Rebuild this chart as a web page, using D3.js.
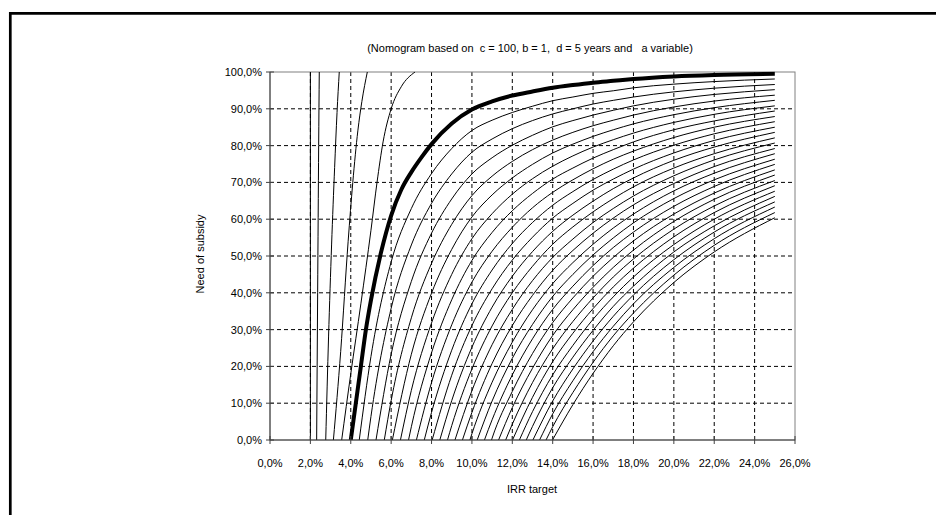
<!DOCTYPE html>
<meta charset="utf-8">
<script src="https://cdn.jsdelivr.net/npm/d3@7/dist/d3.min.js"></script>
<style>
  body { margin: 0; background: #fff; }
  text { font-family: "Liberation Sans", Arial, sans-serif; fill: #000; }
</style>
<div id="chart"></div>
<script>

// axis ticks (IRR target and need of subsidy, in %)
var irrTicks = [0, 2, 4, 6, 8, 10, 12, 14, 16, 18, 20, 22, 24, 26];
var subsidyTicks = [0, 10, 20, 30, 40, 50, 60, 70, 80, 90, 100];

// the bold curve (IRR of 4% without subsidy), [irr, subsidy]
var baseCurve = [[4, 0], [4.25, 10], [4.5, 20], [4.75, 30], [5, 38], [5.5, 51], [6, 61], [6.5, 68],
  [7, 72.8], [7.5, 76.8], [8, 80.4], [9, 86], [10, 89.8], [11, 92], [12, 93.6], [13, 94.7], [14, 95.7],
  [15, 96.45], [16, 97.1], [17, 97.6], [18, 98.1], [20, 98.8], [22, 99.2], [25, 99.5]];

// steep curves left of the bold one, [irr, subsidy]
var steepCurves = [
  [[2, 0], [2, 100]],
  [[2.31, 0], [2.36, 40], [2.41, 80], [2.44, 100]],
  [[2.76, 0], [2.9, 28], [3.05, 53], [3.2, 74], [3.32, 89], [3.43, 100]],
  [[3.14, 0], [3.5, 24], [3.87, 54], [4.1, 70], [4.35, 84], [4.55, 92], [4.82, 100]],
  [[3.55, 0], [4, 18], [4.5, 37], [5, 57], [5.3, 70], [5.6, 81], [6, 90], [6.5, 96], [7.18, 100]]
];

// curves right of the bold one: IRR where subsidy is 0, then subsidy at each grid IRR
var startIrr = [4.42, 4.84, 5.25, 5.66, 6.06, 6.46, 6.86, 7.25, 7.64, 8.03, 8.41, 8.79, 9.16, 9.53,
  9.90, 10.26, 10.62, 10.97, 11.32, 11.67, 12.01, 12.35, 12.69, 13.02, 13.35, 13.67, 13.99];
var irrGrid = [5, 6, 7, 8, 9, 10, 11, 12, 13, 14, 15, 16, 17, 18, 20, 22, 25];
var _ = null;
var subsidyRows = [
  [22.7, 48.4, 62.9, 72.4, 79.2, 84.1, 86.9, 89.0, 90.7, 92.2, 93.2, 94.2, 94.9, 95.7, 96.7, 97.4, 98.1],
  [6.4, 35.8, 53.0, 64.3, 72.3, 78.2, 81.8, 84.6, 86.8, 88.6, 90.0, 91.3, 92.3, 93.2, 94.6, 95.6, 96.6],
  [_, 23.3, 43.1, 56.2, 65.5, 72.3, 76.7, 80.1, 82.8, 85.1, 86.8, 88.3, 89.6, 90.8, 92.6, 93.9, 95.2],
  [_, 10.7, 33.2, 48.0, 58.6, 66.4, 71.7, 75.7, 78.9, 81.5, 83.6, 85.4, 86.9, 88.3, 90.5, 92.1, 93.7],
  [_, _, 23.3, 39.9, 51.8, 60.6, 66.6, 71.2, 74.9, 78.0, 80.4, 82.5, 84.3, 85.9, 88.4, 90.3, 92.3],
  [_, _, 13.5, 31.8, 45.0, 54.7, 61.5, 66.8, 71.0, 74.4, 77.2, 79.6, 81.6, 83.4, 86.3, 88.5, 90.8],
  [_, _, 3.6, 23.7, 38.1, 48.8, 56.4, 62.3, 67.0, 70.9, 73.9, 76.6, 78.9, 81.0, 84.3, 86.7, 89.4],
  [_, _, _, 15.6, 31.3, 42.9, 51.3, 57.8, 63.1, 67.3, 70.7, 73.7, 76.3, 78.5, 82.2, 85.0, 87.9],
  [_, _, _, 7.5, 24.4, 37.0, 46.2, 53.4, 59.1, 63.8, 67.5, 70.8, 73.6, 76.1, 80.1, 83.2, 86.5],
  [_, _, _, _, 17.6, 31.1, 41.1, 48.9, 55.1, 60.3, 64.3, 67.9, 70.9, 73.6, 78.0, 81.4, 85.0],
  [_, _, _, _, 10.7, 25.2, 36.1, 44.5, 51.2, 56.7, 61.1, 64.9, 68.3, 71.2, 76.0, 79.6, 83.6],
  [_, _, _, _, 3.9, 19.3, 31.0, 40.0, 47.2, 53.2, 57.9, 62.0, 65.6, 68.8, 73.9, 77.8, 82.1],
  [_, _, _, _, _, 13.4, 25.9, 35.5, 43.3, 49.6, 54.6, 59.1, 62.9, 66.3, 71.8, 76.1, 80.7],
  [_, _, _, _, _, 7.5, 20.8, 31.1, 39.3, 46.1, 51.5, 56.2, 60.3, 63.9, 69.7, 74.3, 79.2],
  [_, _, _, _, _, 1.7, 15.7, 26.6, 35.4, 42.5, 48.2, 53.2, 57.6, 61.4, 67.7, 72.5, 77.8],
  [_, _, _, _, _, _, 10.6, 22.2, 31.4, 39.0, 45.0, 50.3, 54.9, 59.0, 65.6, 70.7, 76.3],
  [_, _, _, _, _, _, 5.5, 17.7, 27.5, 35.5, 41.8, 47.4, 52.3, 56.5, 63.5, 68.9, 74.9],
  [_, _, _, _, _, _, 0.5, 13.2, 23.5, 31.9, 38.6, 44.5, 49.6, 54.1, 61.4, 67.1, 73.4],
  [_, _, _, _, _, _, _, 8.8, 19.5, 28.4, 35.4, 41.5, 46.9, 51.6, 59.4, 65.4, 72.0],
  [_, _, _, _, _, _, _, 4.3, 15.6, 24.8, 32.2, 38.6, 44.3, 49.2, 57.3, 63.6, 70.5],
  [_, _, _, _, _, _, _, _, 11.6, 21.3, 29.0, 35.7, 41.6, 46.7, 55.2, 61.8, 69.1],
  [_, _, _, _, _, _, _, _, 7.7, 17.7, 25.7, 32.8, 38.9, 44.3, 53.1, 60.0, 67.6],
  [_, _, _, _, _, _, _, _, 3.7, 14.2, 22.5, 29.8, 36.3, 41.8, 51.1, 58.2, 66.2],
  [_, _, _, _, _, _, _, _, _, 10.6, 19.3, 26.9, 33.6, 39.4, 49.0, 56.5, 64.7],
  [_, _, _, _, _, _, _, _, _, 7.1, 16.1, 24.0, 30.9, 37.0, 46.9, 54.7, 63.3],
  [_, _, _, _, _, _, _, _, _, 3.6, 12.9, 21.1, 28.3, 34.5, 44.8, 52.9, 61.8],
  [_, _, _, _, _, _, _, _, _, _, 9.6, 18.1, 25.6, 32.1, 42.8, 51.1, 60.4]
];

var W = 936, H = 515;

var svg = d3.select("#chart").append("svg")
  .attr("width", W)
  .attr("height", H);

// frame of the sheet (only top and left edges are visible)
svg.append("line").attr("x1", 9).attr("x2", W).attr("y1", 13.3).attr("y2", 13.3)
  .attr("stroke", "#000").attr("stroke-width", 2.7);
svg.append("line").attr("x1", 10.3).attr("x2", 10.3).attr("y1", 12).attr("y2", H)
  .attr("stroke", "#000").attr("stroke-width", 2.7);

var x = d3.scaleLinear().domain([0, 26]).range([270, 795]);
var y = d3.scaleLinear().domain([0, 100]).range([440, 72]);

var pct = function(v) { return d3.format(".1f")(v).replace(".", ",") + "%"; };

// dashed grid
svg.append("g").selectAll("line")
  .data(irrTicks.filter(function(d) { return d > 0 && d < 26; }))
  .enter().append("line")
    .attr("x1", function(d) { return x(d); })
    .attr("x2", function(d) { return x(d); })
    .attr("y1", y(100)).attr("y2", y(0))
    .attr("stroke", "#000").attr("stroke-width", 1)
    .attr("stroke-dasharray", "4,3");
svg.append("g").selectAll("line")
  .data(subsidyTicks.filter(function(d) { return d > 0 && d < 100; }))
  .enter().append("line")
    .attr("x1", x(0)).attr("x2", x(26))
    .attr("y1", function(d) { return y(d); })
    .attr("y2", function(d) { return y(d); })
    .attr("stroke", "#000").attr("stroke-width", 1)
    .attr("stroke-dasharray", "4,3");

// plot border
svg.append("rect")
  .attr("x", x(0)).attr("y", y(100))
  .attr("width", x(26) - x(0)).attr("height", y(0) - y(100))
  .attr("fill", "none").attr("stroke", "#808080").attr("stroke-width", 1);

// curves
svg.append("clipPath").attr("id", "plotclip")
  .append("rect")
  .attr("x", x(0)).attr("y", y(100) - 0.5)
  .attr("width", x(26) - x(0)).attr("height", y(0) - y(100) + 0.5);

var line = d3.line()
  .x(function(d) { return x(d[0]); })
  .y(function(d) { return y(d[1]); })
  .curve(d3.curveMonotoneX);

var rightCurves = subsidyRows.map(function(row, i) {
  var pts = [[startIrr[i], 0]];
  row.forEach(function(v, j) { if (v !== null) pts.push([irrGrid[j], v]); });
  return pts;
});

var curves = svg.append("g").attr("clip-path", "url(#plotclip)");

curves.selectAll("path.thin")
  .data(steepCurves.concat(rightCurves))
  .enter().append("path")
    .attr("class", "thin")
    .attr("d", function(d) { return d[0][0] === d[1][0] ? "M" + x(d[0][0]) + "," + y(d[0][1]) + "V" + y(d[1][1]) : line(d); })
    .attr("fill", "none")
    .attr("stroke", "#000")
    .attr("stroke-width", 1);

curves.append("path")
  .datum(baseCurve)
  .attr("d", line)
  .attr("fill", "none")
  .attr("stroke", "#000")
  .attr("stroke-width", 4);

// axes
var ax = svg.append("g").attr("stroke", "#404040").attr("stroke-width", 1);
ax.append("line").attr("x1", x(0)).attr("x2", x(26)).attr("y1", y(0)).attr("y2", y(0));
ax.append("line").attr("x1", x(0)).attr("x2", x(0)).attr("y1", y(0)).attr("y2", y(100));
ax.selectAll("line.xt").data(irrTicks).enter().append("line")
  .attr("class", "xt")
  .attr("x1", function(d) { return x(d); }).attr("x2", function(d) { return x(d); })
  .attr("y1", y(0) - 4).attr("y2", y(0) + 4);
ax.selectAll("line.yt").data(subsidyTicks).enter().append("line")
  .attr("class", "yt")
  .attr("x1", x(0) - 4).attr("x2", x(0) + 4)
  .attr("y1", function(d) { return y(d); }).attr("y2", function(d) { return y(d); });

svg.append("g").selectAll("text")
  .data(irrTicks)
  .enter().append("text")
    .attr("x", function(d) { return x(d); })
    .attr("y", y(0) + 27)
    .attr("text-anchor", "middle")
    .style("font-size", "11px")
    .text(pct);

svg.append("g").selectAll("text")
  .data(subsidyTicks)
  .enter().append("text")
    .attr("x", x(0) - 8)
    .attr("y", function(d) { return y(d) + 4; })
    .attr("text-anchor", "end")
    .style("font-size", "11px")
    .text(pct);

// titles
svg.append("text")
  .attr("x", 530).attr("y", 52)
  .attr("text-anchor", "middle")
  .style("font-size", "11px")
  .style("white-space", "pre")
  .text("(Nomogram based on  c = 100, b = 1,  d = 5 years and   a variable)");

svg.append("text")
  .attr("x", 532).attr("y", 493)
  .attr("text-anchor", "middle")
  .style("font-size", "11px")
  .text("IRR target");

svg.append("text")
  .attr("transform", "translate(204," + 254 + ") rotate(-90)")
  .attr("text-anchor", "middle")
  .style("font-size", "11px")
  .text("Need of subsidy");

</script>
